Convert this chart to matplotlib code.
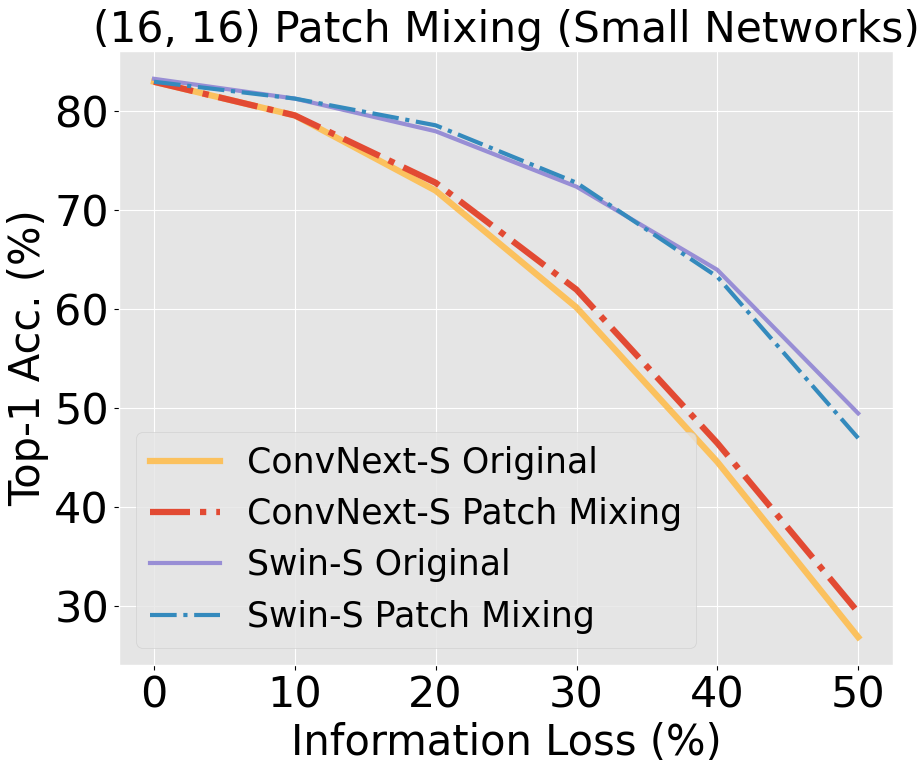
import matplotlib
matplotlib.use('Agg')
import matplotlib.pyplot as plt

plt.style.use('ggplot')

loss = [0, 10, 20, 30, 40, 50]
convnext_orig = [83.0, 79.6, 72.0, 60.2, 44.6, 26.9]
convnext_mix = [83.0, 79.6, 72.8, 62.0, 46.5, 29.4]
swin_orig = [83.3, 81.3, 78.0, 72.4, 64.0, 49.5]
swin_mix = [83.0, 81.3, 78.6, 72.8, 63.3, 47.0]

fig, ax = plt.subplots(figsize=(9.21, 7.71), dpi=100)
ax.plot(loss, convnext_orig, color='#FBC15E', linewidth=4.5, label='ConvNext-S Original')
ax.plot(loss, convnext_mix, color='#E24A33', linewidth=4.5, linestyle='-.', label='ConvNext-S Patch Mixing')
ax.plot(loss, swin_orig, color='#988ED5', linewidth=3, label='Swin-S Original')
ax.plot(loss, swin_mix, color='#348ABD', linewidth=3, linestyle='-.', label='Swin-S Patch Mixing')

ax.set_title('(16, 16) Patch Mixing (Small Networks)', fontsize=30.5, color='black')
ax.set_xlabel('Information Loss (%)', fontsize=30, color='black')
ax.set_ylabel('Top-1 Acc. (%)', fontsize=30, color='black')
ax.tick_params(axis='both', labelsize=31, colors='black')
ax.set_xticks(loss)
ax.set_yticks([30, 40, 50, 60, 70, 80])
ax.legend(fontsize=25, loc='lower left')

plt.subplots_adjust(left=0.129, right=0.970, top=0.934, bottom=0.1375)
plt.savefig('out.png', dpi=100)
